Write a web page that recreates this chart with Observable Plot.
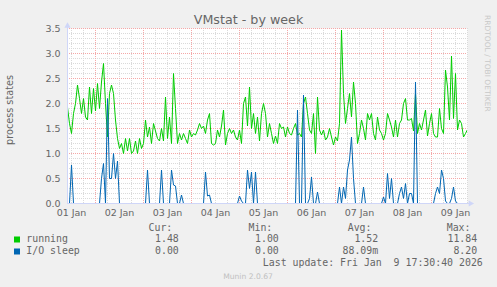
<!DOCTYPE html>
<html><head><meta charset="utf-8">
<script src="https://cdn.jsdelivr.net/npm/d3@7"></script>
<script src="https://cdn.jsdelivr.net/npm/@observablehq/plot@0.6"></script>
<style>
html,body{margin:0;padding:0;background:#f0f0f0;}
#wrap{position:relative;width:497px;height:287px;overflow:hidden;background:#f0f0f0;}
#chart{position:absolute;left:0;top:0;}
#over{position:absolute;left:0;top:0;pointer-events:none;}
</style></head><body>
<div id="wrap"><div id="chart"></div><svg id="over" width="497" height="287"></svg></div>
<script>
// hourly samples, first sample 10 h after 01 Jan 00:00
const startHour = 10;
const running = [
1.93,1.6,1.4,1.8,2.0,2.37,2.1,1.8,2.1,1.73,
1.67,2.33,1.8,2.3,1.85,2.4,1.9,2.43,2.8,2.0,
1.33,2.2,2.37,2.2,1.67,1.3,1.1,1.2,1.0,1.3,
1.05,1.3,1.0,1.05,1.25,1.0,1.3,1.1,1.2,1.67,
1.33,1.53,1.2,1.6,1.45,1.3,1.25,1.5,1.25,2.13,
1.3,1.73,1.2,2.6,1.9,1.2,1.4,1.27,1.4,1.3,
1.2,1.47,1.33,1.4,1.37,1.47,1.6,1.5,1.55,1.4,
1.67,1.8,1.2,1.17,1.2,1.47,1.33,1.55,1.87,1.17,
1.4,1.5,1.4,1.47,1.33,1.27,1.47,1.2,2.0,2.13,
1.55,2.33,1.5,1.8,1.4,1.73,1.25,1.8,2.0,1.8,
1.33,1.6,1.4,1.2,1.35,1.2,1.6,1.5,1.53,1.33,
1.53,1.4,1.37,1.5,1.6,1.37,1.4,1.33,2.0,2.13,
1.8,1.47,1.4,1.8,1.0,2.13,1.47,1.37,1.47,1.27,
1.33,1.5,1.33,1.17,1.33,1.25,1.6,3.47,2.2,1.6,
1.9,2.2,1.73,2.43,2.0,1.2,1.4,1.67,1.5,1.27,
1.8,1.67,1.8,1.4,1.27,1.73,1.47,1.4,1.27,1.4,
1.8,1.67,1.53,1.33,1.67,1.33,1.6,1.67,2.0,2.1,
1.67,1.67,1.7,1.45,2.2,1.4,1.6,1.47,1.67,1.87,
1.35,1.6,1.8,1.4,1.33,1.33,1.9,1.5,1.4,2.67,
2.33,1.67,2.95,1.7,2.6,1.47,1.67,1.6,1.33,1.4,
1.48];
const ioSleep = [
0,0,0.77,0,0,0,0,0,0,0,
0,0,0,0,0,0,0,0.5,0.8,0,
2.1,0.5,0.5,1.0,0.5,0.85,0,0,0,0,
0,0,0,0,0,0,0,0,0,0,
0.67,0,0,0,0,0,0,0.67,0,0,
0,0,0.67,0.37,0.35,0,0,0.17,0,0,
0,0,0,0,0,0,0,0,0,0.63,
0.15,0.17,0,0,0,0,0,0,0,0,
0,0,0,0,0,0,0.15,0.05,0,0,
0.67,0.3,0.63,0,0.63,0,0,0,0,0,
0,0,0,0,0,0,0,0,0,0,
0,0,0,0,0,1.87,0,0,2.17,0,
0,0.1,0.53,0,0,0.23,0,0,0,0,
0,0,0,0,0,0,0.33,0,0.33,0.1,
0.67,0.87,1.33,0.5,0,0,0,0,0.33,0,
0,0,0,0,0,0,0,0,0.13,0,
0.6,0.1,0.5,0,0,0,0.2,0.33,0.1,0.4,
0,0.2,0.2,0,2.43,0,0,0,0,0,
0,0,0,0,0.2,0.33,0.2,0.67,0.5,0.05,
0,0,0.1,0.33,0.05,0,0,0,0,0,
0];
const dayLabels = ["01 Jan","02 Jan","03 Jan","04 Jan","05 Jan","06 Jan","07 Jan","08 Jan","09 Jan"];
const yTicks = [0,0.5,1,1.5,2,2.5,3,3.5];
const seriesNames = ["running","I/O sleep"];
const seriesColors = ["#00cc00","#0066b3"];
const legendHeads = ["Cur:","Min:","Avg:","Max:"];
const legendRunning = ["1.48","1.00","1.52","11.84"];
const legendIO = ["0.00","0.00","88.09m","8.20"];
const lastUpdate = "Last update: Fri Jan  9 17:30:40 2026";

const span = running.length - 1;
const rows = running.map((v,i)=>({t:startHour+i, running:v, io:ioSleep[i]}));
const dayCenters = dayLabels.map((_,i)=>12+24*i);
const xMajor = d3.range(24, startHour+span+1, 24);
const xMinor = d3.range(0, startHour+span+1, 6).filter(h=>h>startHour && h%24!==0);
const yMinor = d3.range(1,35).map(k=>k/10).filter((_,i)=>(i+1)%5!==0);
const axisCol = "#CFD6F8";

const chart = Plot.plot({
  width: 497, height: 220,
  marginLeft: 67, marginRight: 30, marginTop: 28, marginBottom: 17,
  style: {background:"transparent", color:"#666", fontFamily:"DejaVu Sans", fontSize:"9.5px", overflow:"visible"},
  x: {domain:[startHour, startHour+span], label:null},
  y: {domain:[0,3.5], label:null},
  marks: [
    Plot.frame({fill:"white", stroke:"none"}),
    Plot.ruleY(yMinor, {stroke:"#dadada", strokeDasharray:"1,1"}),
    Plot.ruleX(xMinor, {stroke:"#dadada", strokeDasharray:"1,1"}),
    Plot.ruleY(yTicks.slice(1), {stroke:"#f5a8a8", strokeDasharray:"1,1"}),
    Plot.ruleX(xMajor, {stroke:"#f5a8a8", strokeDasharray:"1,1"}),
    Plot.line(rows, {x:"t", y:"running", stroke:seriesColors[0], strokeWidth:1, clip:true}),
    Plot.line(rows, {x:"t", y:"io", stroke:seriesColors[1], strokeWidth:1, clip:true}),
    Plot.ruleY([0], {x1:startHour, x2:startHour+span+2.5, stroke:axisCol}),
    Plot.ruleX([startHour], {y1:0, y2:3.6, stroke:axisCol}),
    Plot.dot([{t:startHour, v:3.5}], {x:"t", y:"v", symbol:"triangle", r:2.3, fill:axisCol, stroke:"none", dy:-2.6}),
    Plot.dot([{t:startHour+span, v:0}], {x:"t", y:"v", symbol:"triangle", r:2.3, fill:axisCol, stroke:"none", rotate:90, dx:3}),
    Plot.axisY(yTicks, {tickSize:0, tickPadding:7, tickFormat:d=>d.toFixed(1), fill:"#666", label:null}),
    Plot.axisX(dayCenters, {tickSize:0, tickPadding:6, tickFormat:d=>dayLabels[dayCenters.indexOf(d)], fill:"#666", label:null})
  ]
});
document.getElementById("chart").appendChild(chart);

const o = d3.select("#over");
const sans = "DejaVu Sans", mono = "DejaVu Sans Mono";
function txt(x,y,s,opt={}){
  const t = o.append("text").attr("x",x).attr("y",y).text(s)
    .attr("font-family",opt.font||sans).attr("font-size",opt.size||"9.5px")
    .attr("fill",opt.fill||"#666").attr("text-anchor",opt.anchor||"start")
    .style("white-space","pre");
  if(opt.rot!==undefined) t.attr("transform",`rotate(${opt.rot},${x},${y})`);
  return t;
}
txt(248.5,24,"VMstat - by week",{size:"12.7px",anchor:"middle"});
txt(12.8,110,"process states",{size:"9.7px",anchor:"middle",rot:-90});
txt(484.5,15,"RRDTOOL / TOBI OETIKER",{size:"7.5px",fill:"#c8c8c8",rot:90});
const colEnds = [178.8,278.8,378.2,477.2];
const headEnds = [172.3,272.3,371.5,470.5];
legendHeads.forEach((h,i)=>txt(headEnds[i],231,h,{font:mono,size:"9.9px",anchor:"end"}));
const rowsY = [242,254];
[legendRunning, legendIO].forEach((vals,r)=>{
  o.append("rect").attr("x",14).attr("y",rowsY[r]-5.5).attr("width",6).attr("height",6).attr("fill",seriesColors[r]);
  txt(26.3,rowsY[r],seriesNames[r],{font:mono,size:"9.9px"});
  vals.forEach((v,i)=>txt(colEnds[i],rowsY[r],v,{font:mono,size:"9.9px",anchor:"end"}));
});
txt(482.8,266,lastUpdate,{font:mono,size:"9.9px",anchor:"end"});
txt(248,279,"Munin 2.0.67",{size:"7.6px",fill:"#c0c0c0",anchor:"middle"});
</script>
</body></html>
